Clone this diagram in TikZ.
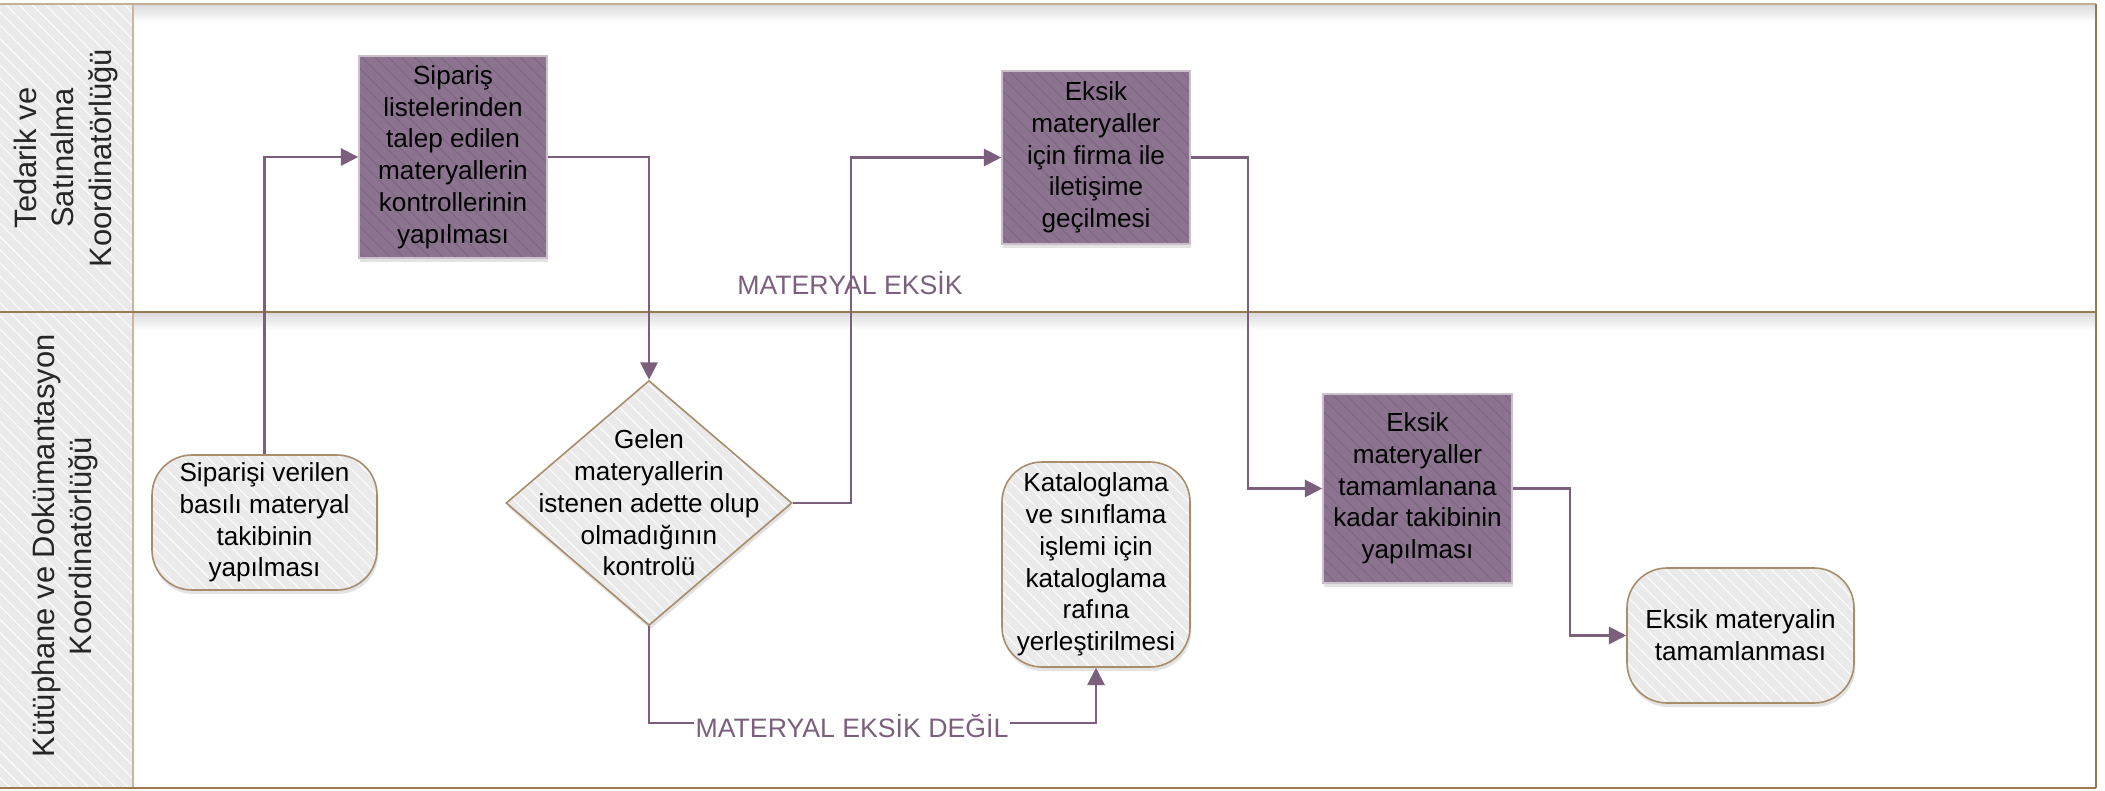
\documentclass[tikz,border=0pt]{standalone}
\usepackage{fontspec}
\setmainfont{Liberation Sans}
\usetikzlibrary{arrows.meta,shapes.geometric,shadows,patterns.meta}

\definecolor{lanebrown}{HTML}{9B7A52}
\definecolor{headgray}{HTML}{EAEAEA}
\definecolor{boxpurple}{HTML}{8C7490}
\definecolor{boxedge}{HTML}{CBBFCC}
\definecolor{flowline}{HTML}{7B5F7D}
\definecolor{termedge}{HTML}{A88D6C}

\tikzset{
  lane/.style={draw=lanebrown, line width=2pt},
  lanetitle/.style={rotate=90, align=center, inner sep=0.75pt, text=black!85,
    font=\fontsize{23.2}{27.8}\selectfont},
  nodetext/.style={align=center, inner sep=0pt, font=\fontsize{19.6}{23.8}\selectfont},
  soft/.style={drop shadow={shadow xshift=1pt, shadow yshift=-3pt, opacity=0.22}},
  proc/.style={nodetext, soft, preaction={fill=boxpurple}, draw=boxedge, line width=1.2pt,
    pattern={Lines[angle=-45,distance=7pt,line width=0.7pt]}, pattern color=boxpurple!88!black},
  term/.style={nodetext, soft, preaction={fill=headgray}, draw=termedge, line width=1.2pt,
    rounded corners=30pt, pattern={Lines[angle=-45,distance=7pt,line width=0.7pt]}, pattern color=white},
  decision/.style={diamond, soft, preaction={fill=headgray}, draw=termedge, line width=1.2pt, inner sep=0pt,
    pattern={Lines[angle=-45,distance=7pt,line width=0.7pt]}, pattern color=white},
  flow/.style={draw=flowline, line width=1.6pt, -{Triangle[length=13pt,width=13pt]}},
  lbl/.style={text=flowline, inner sep=1pt, font=\fontsize{20}{24}\selectfont}
}

\begin{document}
\begin{tikzpicture}[x=0.75pt,y=0.75pt,yscale=-1,xscale=1]
\useasboundingbox (0,0) rectangle (2105,791);

% Lane headers
\fill[headgray] (0,4) rectangle (133,788);
\fill[pattern={Lines[angle=-45,distance=7pt,line width=0.7pt]}, pattern color=white] (0,4) rectangle (133,788);
\shade[top color=black!14, bottom color=white] (133,5) rectangle (2096,22);
\shade[top color=black!14, bottom color=white] (133,313) rectangle (2096,330);
\draw[lanebrown!55, line width=1.5pt] (133,4) -- (133,788);

% Lane borders
\draw[lanebrown!60, line width=2pt] (0,4) -- (2096,4);
\draw[lane] (0,312) -- (2096,312);
\draw[lane] (0,788) -- (2096,788);
\draw[lane] (2096,4) -- (2096,788);

\node[lanetitle] (lanetedarik) at (66,158) {Tedarik ve\\Satınalma\\Koordinatörlüğü};
\node[lanetitle] (lanekutuphane) at (65,546) {Kütüphane ve Dokümantasyon\\Koordinatörlüğü};

% Steps
\node[term, minimum width=168.75pt, minimum height=101.25pt] (start) at (264.5,522.5) {Siparişi verilen\\basılı materyal\\takibinin\\yapılması};
\node[proc, minimum width=141pt, minimum height=151.5pt] (siparis) at (453,157) {Sipariş\\listelerinden\\talep edilen\\materyallerin\\kontrollerinin\\yapılması};
\node[decision, minimum width=214.5pt, minimum height=183.75pt] (kontrol) at (649,503) {};
\node[nodetext] (kontroltext) at (kontrol) {Gelen\\materyallerin\\istenen adette olup\\olmadığının\\kontrolü};
\node[proc, minimum width=141pt, minimum height=129.75pt] (iletisim) at (1096,157.5) {Eksik\\materyaller\\için firma ile\\iletişime\\geçilmesi};
\node[term, minimum width=141pt, minimum height=153.75pt] (katalog) at (1096,564.5) {Kataloglama\\ve sınıflama\\işlemi için\\kataloglama\\rafına\\yerleştirilmesi};
\node[proc, minimum width=141.75pt, minimum height=141.75pt] (takip) at (1417.5,488.5) {Eksik\\materyaller\\tamamlanana\\kadar takibinin\\yapılması};
\node[term, minimum width=170.25pt, minimum height=101.25pt] (bitis) at (1740.5,635.5) {Eksik materyalin\\tamamlanması};

% Connectors
\coordinate (katalogalt) at (1096,723);
\draw[flow] (start) |- (siparis);
\draw[flow] (siparis) -| (kontrol);
\draw[flow] (kontrol.east) -- ++(58,0) |- (iletisim);
\draw[flow] (kontrol.south) |- (katalogalt) -- (katalog.south);
\draw[flow] (iletisim.east) -- ++(57,0) |- (takip);
\draw[flow] (takip.east) -- ++(57,0) |- (bitis);

% Labels
\node[lbl] (eksik) at (850,283) {MATERYAL EKSİK};
\node[lbl, fill=white] (eksikdegil) at (852,726) {MATERYAL EKSİK DEĞİL};

\end{tikzpicture}
\end{document}
